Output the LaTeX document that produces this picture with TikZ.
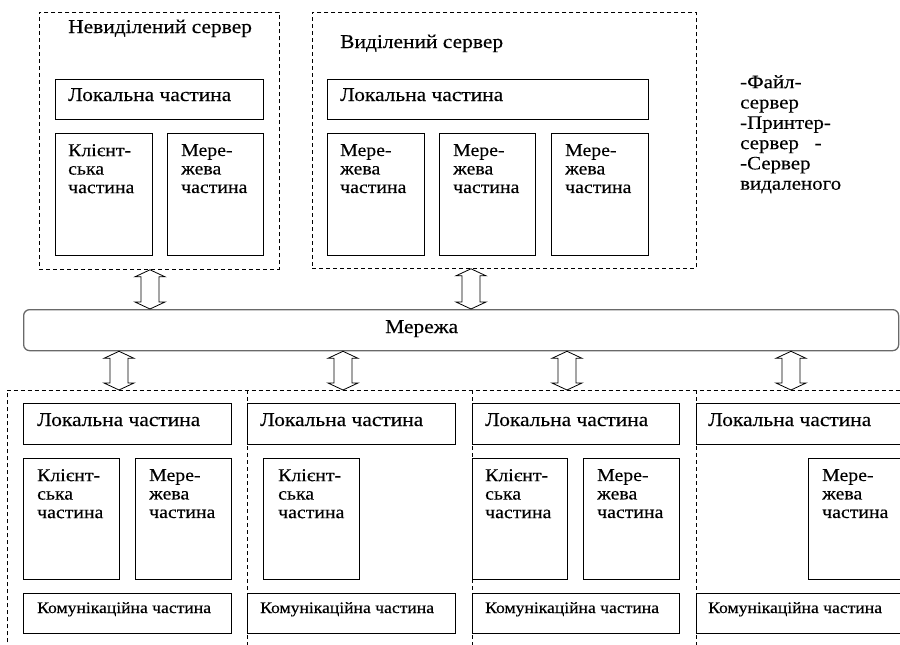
\documentclass[tikz,border=0pt]{standalone}
\usepackage{fontspec}
\setmainfont[FakeStretch=1.1,FakeBold=0.3]{Liberation Serif}
\begin{document}
\begin{tikzpicture}[x=1pt,y=-1pt,
  frame/.style={draw=black, dash pattern=on 4pt off 3pt, line width=0.8pt,
    rectangle, inner sep=0pt, anchor=north west},
  slot/.style={rectangle, inner sep=0pt, anchor=north west},
  dashline/.style={draw=black, dash pattern=on 4pt off 3pt, line width=0.8pt},
  part/.style={draw=black, line width=0.8pt, fill=white, rectangle,
    inner sep=0pt, anchor=north west},
  netbox/.style={draw={rgb,255:red,105;green,105;blue,105}, line width=1.3pt,
    rounded corners=6pt, fill=white, rectangle, inner sep=0pt, anchor=north west},
  lbl/.style={inner sep=0pt, anchor=base west, font=\fontsize{19.5}{22}\selectfont},
  small/.style={inner sep=0pt, anchor=base west, font=\fontsize{16}{18}\selectfont},
  multi/.style={inner sep=0pt, anchor=north west, align=left,
    font=\fontsize{18}{18.5}\selectfont},
  side/.style={inner sep=0pt, anchor=north west, align=left,
    font=\fontsize{19}{20.3}\selectfont},
  dblarrow/.style={draw=black, line width=0.8pt, fill=white, line join=miter}
]
\useasboundingbox (0,0) rectangle (900,645);
\clip (0,0) rectangle (900,645);

% a box given by name, top-left corner, width and height
\newcommand\partbox[5]{\node[part, minimum width=#4pt, minimum height=#5pt] (#1) at (#2,#3) {};}
% hollow two-headed arrow between two named points
\newcommand\updown[2]{%
  \draw[dblarrow] (#1) -- ([shift={(15,7)}]#1) -- ([shift={(9,7)}]#1)
    -- ([shift={(9,-7)}]#2) -- ([shift={(15,-7)}]#2) -- (#2)
    -- ([shift={(-15,-7)}]#2) -- ([shift={(-9,-7)}]#2)
    -- ([shift={(-9,7)}]#1) -- ([shift={(-15,7)}]#1) -- cycle;}

% ---------- servers ----------
\node[frame, minimum width=240pt, minimum height=257pt] (nsrv) at (39,12) {};
\node[frame, minimum width=384pt, minimum height=256pt] (dsrv) at (312,12) {};
\node[lbl] (nsrvt) at (68,33) {Невиділений сервер};
\node[lbl] (dsrvt) at (340,48) {Виділений сервер};

\partbox{nloc}{55}{79}{208}{40}
\partbox{ncli}{55}{133}{97}{122}
\partbox{nnet}{167}{133}{96}{122}
\node[lbl] (nlocl) at ([shift={(13,22)}]nloc.north west) {Локальна частина};
\node[multi] (nclil) at ([shift={(13,11)}]ncli.north west) {Клієнт-\\ська\\частина};
\node[multi] (nnetl) at ([shift={(14,11)}]nnet.north west) {Мере-\\жева\\частина};

\partbox{dloc}{327}{79}{321}{40}
\partbox{dnA}{327}{133}{97}{122}
\partbox{dnB}{439}{133}{96}{122}
\partbox{dnC}{551}{133}{97}{122}
\node[lbl] (dlocl) at ([shift={(13,22)}]dloc.north west) {Локальна частина};
\node[multi] (dnAl) at ([shift={(13,11)}]dnA.north west) {Мере-\\жева\\частина};
\node[multi] (dnBl) at ([shift={(14,11)}]dnB.north west) {Мере-\\жева\\частина};
\node[multi] (dnCl) at ([shift={(14,11)}]dnC.north west) {Мере-\\жева\\частина};

\node[side] (roles) at (740,75) {-Файл-\\сервер\\-Принтер-\\сервер\ \ \ -\\-Сервер\\видаленого};

% ---------- network ----------
\node[netbox, minimum width=875pt, minimum height=41pt] (net) at (23,309) {};
\node[lbl] (netl) at (385,333) {Мережа};

% ---------- workstations: four dashed columns sharing their borders ----------
\node[slot, minimum width=240pt, minimum height=280pt] (wsA) at (7,390) {};
\node[slot, minimum width=225pt, minimum height=280pt] (wsB) at (247,390) {};
\node[slot, minimum width=224pt, minimum height=280pt] (wsC) at (472,390) {};
\node[slot, minimum width=224pt, minimum height=280pt] (wsD) at (696,390) {};
\draw[dashline] (wsA.south west) -- (wsA.north west) -- (wsD.north east);
\draw[dashline] (wsB.north west) -- (wsB.south west);
\draw[dashline] (wsC.north west) -- (wsC.south west);
\draw[dashline] (wsD.north west) -- (wsD.south west);

\partbox{aloc}{23}{403}{208}{41}
\partbox{acli}{23}{458}{96}{121}
\partbox{anet}{135}{458}{96}{121}
\partbox{acom}{23}{593}{208}{40}
\node[lbl] (alocl) at ([shift={(14,23)}]aloc.north west) {Локальна частина};
\node[multi] (aclil) at ([shift={(14,11)}]acli.north west) {Клієнт-\\ська\\частина};
\node[multi] (anetl) at ([shift={(14,11)}]anet.north west) {Мере-\\жева\\частина};
\node[small] (acoml) at ([shift={(14,20)}]acom.north west) {Комунікаційна частина};

\partbox{bloc}{247}{403}{208}{41}
\partbox{bcli}{263}{458}{96}{121}
\partbox{bcom}{247}{593}{208}{40}
\node[lbl] (blocl) at ([shift={(13,23)}]bloc.north west) {Локальна частина};
\node[multi] (bclil) at ([shift={(15,11)}]bcli.north west) {Клієнт-\\ська\\частина};
\node[small] (bcoml) at ([shift={(13,20)}]bcom.north west) {Комунікаційна частина};

\partbox{cloc}{472}{403}{207}{41}
\partbox{ccli}{472}{458}{95}{121}
\partbox{cnet}{583}{458}{96}{121}
\partbox{ccom}{472}{593}{207}{40}
\node[lbl] (clocl) at ([shift={(13,23)}]cloc.north west) {Локальна частина};
\node[multi] (cclil) at ([shift={(13,11)}]ccli.north west) {Клієнт-\\ська\\частина};
\node[multi] (cnetl) at ([shift={(14,11)}]cnet.north west) {Мере-\\жева\\частина};
\node[small] (ccoml) at ([shift={(13,20)}]ccom.north west) {Комунікаційна частина};

\partbox{dloc2}{696}{403}{210}{41}
\partbox{dnet2}{808}{458}{96}{121}
\partbox{dcom2}{696}{593}{210}{40}
\node[lbl] (dloc2l) at ([shift={(12,23)}]dloc2.north west) {Локальна частина};
\node[multi] (dnet2l) at ([shift={(14,11)}]dnet2.north west) {Мере-\\жева\\частина};
\node[small] (dcom2l) at ([shift={(12,20)}]dcom2.north west) {Комунікаційна частина};

% ---------- links ----------
\coordinate (nA) at (nsrv.south -| 150,0);
\coordinate (nB) at (net.north -| 150,0);
\coordinate (dA) at (dsrv.south -| 471,0);
\coordinate (dB) at (net.north -| 471,0);
\updown{nA}{nB}
\updown{dA}{dB}

\coordinate (wA1) at (net.south -| 119,0);
\coordinate (wA2) at (wsA.north -| 119,0);
\coordinate (wB1) at (net.south -| 343,0);
\coordinate (wB2) at (wsB.north -| 343,0);
\coordinate (wC1) at (net.south -| 567,0);
\coordinate (wC2) at (wsC.north -| 567,0);
\coordinate (wD1) at (net.south -| 791,0);
\coordinate (wD2) at (wsD.north -| 791,0);
\updown{wA1}{wA2}
\updown{wB1}{wB2}
\updown{wC1}{wC2}
\updown{wD1}{wD2}
\end{tikzpicture}
\end{document}
